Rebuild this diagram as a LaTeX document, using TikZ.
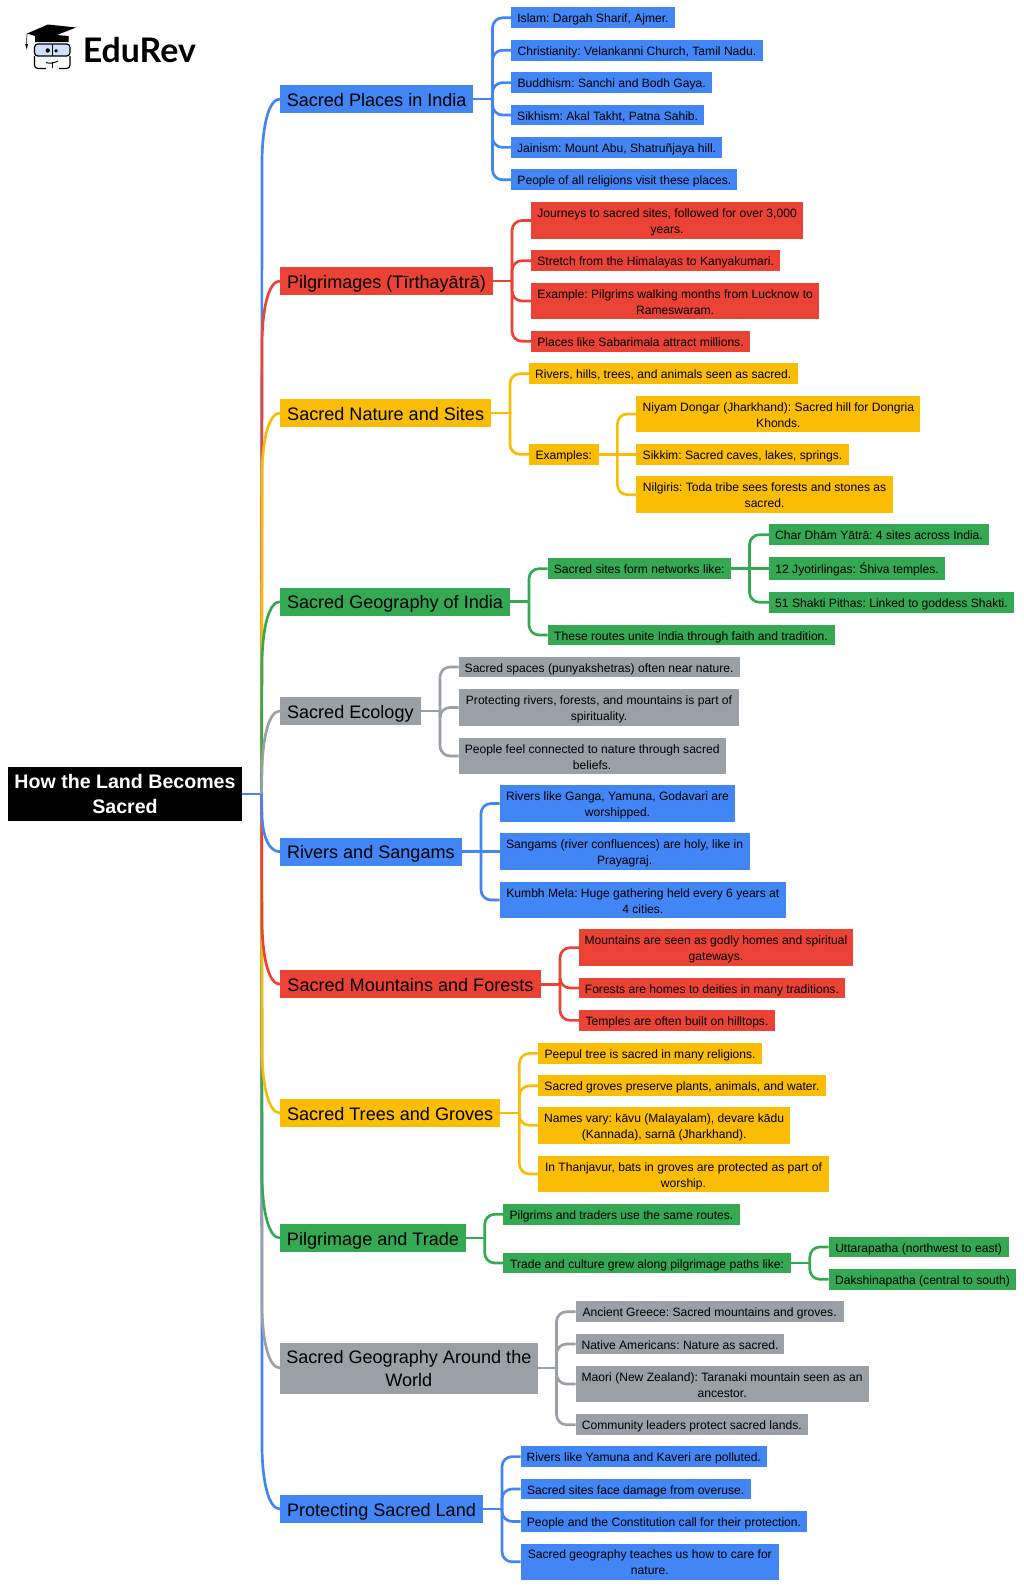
\documentclass[tikz,border=0pt]{standalone}
\usepackage{fontspec}
\setmainfont{Liberation Sans}
\newfontfamily\logofont{Lato}
\usetikzlibrary{calc}
\frenchspacing
\definecolor{cb}{HTML}{4285F4}
\definecolor{cr}{HTML}{EA4335}
\definecolor{cy}{HTML}{FBBC04}
\definecolor{cg}{HTML}{34A853}
\definecolor{ca}{HTML}{9AA0A6}
\newcommand{\fixedlines}{\lineskiplimit=-100pt\relax}
\tikzset{
  boxbase/.style={anchor=west,inner sep=0pt,outer sep=0pt,align=center,text=black},
  subtext/.style={font=\fontsize{9.07pt}{12pt}\selectfont\fixedlines},
  maintext/.style={font=\fontsize{13.55pt}{17.6pt}\selectfont\fixedlines},
  stubline/.style={line width=2pt},
  linkline/.style={line width=2pt,rounded corners=7.5pt},
  trunkline/.style={line width=2pt},
}
\newcommand{\subtop}{\rule{0pt}{10.6pt}}
\newcommand{\subbot}{\rule[-3.1pt]{0pt}{3.1pt}}
\newcommand{\maintop}{\rule{0pt}{13.8pt}}
\newcommand{\mainbot}{\rule[-3.3pt]{0pt}{3.3pt}}
% name, left, right, centre y, height, colour, style, text
\newcommand{\mybox}[8]{\node[boxbase,#7,fill=#6,minimum width={(#3-#2)*0.75pt},minimum height={#5*0.75pt}] (#1) at (#2,#4) {#8};}
\newcommand{\sbx}[7]{\mybox{#1}{#2}{#3}{#4}{#5}{#6}{subtext}{\subtop #7\subbot}}
\newcommand{\mbx}[7]{\mybox{#1}{#2}{#3}{#4}{#5}{#6}{maintext}{\maintop #7\mainbot}}
% colour, parent, child, stem coordinate
\newcommand{\lnk}[4]{\draw[stubline,#1] (#2.east) -- (#4 |- #2.east);\draw[linkline,#1] (#4 |- #2.east) -- (#4 |- #3.west) -- (#3.west);}
\newcommand{\slk}[3]{\draw[stubline,#1] (#2.east) -- (#3.west);}
\newcommand{\tlk}[3]{\draw[trunkline,#1] (hub) -- ($(#2.west)+(-18,#3*60)$) .. controls ($(#2.west)+(-17.3,#3*25)$) and ($(#2.west)+(-11,0)$) .. (#2.west);}
\begin{document}
\begin{tikzpicture}[x=0.75pt,y=-0.75pt]
\useasboundingbox (0,0) rectangle (1024,1588);
% logo
\fill[black] (27,33.5) -- (48,24.5) -- (76,27.5) -- (57,35) -- (68.5,36) -- (68.5,42) -- (35,42) -- (35,36) -- cycle;
\draw[black,line width=.5pt] (27,33.5) -- (26.6,44);
\fill[black] (25.2,44) -- (28,44) -- (26.8,49.5) -- cycle;
\draw[black,line width=.9pt,fill=cb!25,rounded corners=2.5pt] (34.5,44) rectangle (70,56);
\draw[black,line width=.9pt,rounded corners=2.5pt] (34.5,56) -- (34.5,68.5) -- (46,68.5) (59,68.5) -- (70,68.5) -- (70,56);
\draw[black,line width=.7pt] (52.5,44) -- (52.5,56);
\fill[black] (47.7,50.5) circle (2.2) (56,50.8) circle (1.8);
\draw[black,line width=.7pt] (46,62.5) .. controls (50,64) and (54,63) .. (58,61) (52.5,62) -- (52.5,68);
\node[anchor=base west,inner sep=0pt,font=\logofont\bfseries\fontsize{25.4pt}{25.4pt}\selectfont] (logo) at (82.5,62.5) {EduRev};
% root and main topics
\node[boxbase,fill=black,text=white,minimum width={234*0.75pt},minimum height={54.5*0.75pt},font=\bfseries\fontsize{14.7pt}{18.8pt}\selectfont] (root) at (8,794) {How the Land Becomes\\Sacred};
\coordinate (hub) at (261.5,794);
\mbx{m1}{280}{473.3}{99}{27.7}{cb}{Sacred Places in India}
\mbx{m2}{280}{493}{281}{27.7}{cr}{Pilgrimages (Tīrthayātrā)}
\mbx{m3}{280}{491.3}{413}{27.7}{cy}{Sacred Nature and Sites}
\mbx{m4}{280}{510}{601.7}{27.7}{cg}{Sacred Geography of India}
\mbx{m5}{280}{420.7}{711}{27.7}{ca}{Sacred Ecology}
\mbx{m6}{280}{461.7}{851.7}{27.7}{cb}{Rivers and Sangams}
\mbx{m7}{280}{541}{984.3}{27.7}{cr}{Sacred Mountains and Forests}
\mbx{m8}{280}{500.4}{1113}{27.7}{cy}{Sacred Trees and Groves}
\mbx{m9}{280}{466}{1238}{27.7}{cg}{Pilgrimage and Trade}
\mbx{m10}{280}{537.7}{1368}{51}{ca}{Sacred Geography Around the\\World}
\mbx{m11}{280}{483}{1509}{27.7}{cb}{Protecting Sacred Land}
% coordinates of the branch stems
\coordinate (x1) at (492.5,0);
\coordinate (x2) at (512,0);
\coordinate (x3) at (510,0);
\coordinate (x3b) at (617.4,0);
\coordinate (x4) at (529,0);
\coordinate (x4b) at (749.5,0);
\coordinate (x5) at (440,0);
\coordinate (x6) at (481,0);
\coordinate (x7) at (560,0);
\coordinate (x8) at (519.4,0);
\coordinate (x9) at (484.7,0);
\coordinate (x9b) at (809.8,0);
\coordinate (x10) at (556.5,0);
\coordinate (x11) at (502,0);
% leaves
\sbx{a1}{511.3}{674.6}{17.8}{20.7}{cb}{Islam: Dargah Sharif, Ajmer.}
\sbx{a2}{511.3}{762.7}{50.2}{20.7}{cb}{Christianity: Velankanni Church, Tamil Nadu.}
\sbx{a3}{511.3}{712}{82.6}{20.7}{cb}{Buddhism: Sanchi and Bodh Gaya.}
\sbx{a4}{511.3}{704}{115}{20.7}{cb}{Sikhism: Akal Takht, Patna Sahib.}
\sbx{a5}{511.3}{722}{147.4}{20.7}{cb}{Jainism: Mount Abu, Shatruñjaya hill.}
\sbx{a6}{511.3}{737.4}{179.8}{20.7}{cb}{People of all religions visit these places.}
\sbx{b1}{531}{803.1}{220.5}{36.6}{cr}{Journeys to sacred sites, followed for over 3,000\\years.}
\sbx{b2}{531}{780.4}{260.7}{20.7}{cr}{Stretch from the Himalayas to Kanyakumari.}
\sbx{b3}{531}{819.2}{301}{36.6}{cr}{Example: Pilgrims walking months from Lucknow to\\Rameswaram.}
\sbx{b4}{531}{750}{341.3}{20.7}{cr}{Places like Sabarimala attract millions.}
\sbx{c1}{529}{797.5}{373.7}{20.7}{cy}{Rivers, hills, trees, and animals seen as sacred.}
\sbx{c2}{529}{598.6}{454.3}{20.7}{cy}{Examples:}
\sbx{c3}{636.4}{920.4}{414}{36.6}{cy}{Niyam Dongar (Jharkhand): Sacred hill for Dongria\\Khonds.}
\sbx{c4}{636.4}{848.6}{454.3}{20.7}{cy}{Sikkim: Sacred caves, lakes, springs.}
\sbx{c5}{636.4}{892.7}{494.7}{36.6}{cy}{Nilgiris: Toda tribe sees forests and stones as\\sacred.}
\sbx{d1}{547.5}{731}{568.7}{20.7}{cg}{Sacred sites form networks like:}
\sbx{d2}{547.5}{834.6}{635}{20.7}{cg}{These routes unite India through faith and tradition.}
\sbx{d3}{769}{989}{534.7}{20.7}{cg}{Char Dhām Yātrā: 4 sites across India.}
\sbx{d4}{769}{945.2}{568.7}{23.3}{cg}{12 Jyotirlingas: Śhiva temples.}
\sbx{d5}{769}{1014}{602.3}{20.7}{cg}{51 Shakti Pithas: Linked to goddess Shakti.}
\sbx{e1}{458.7}{739.6}{667}{20.7}{ca}{Sacred spaces (punyakshetras) often near nature.}
\sbx{e2}{458.7}{739.3}{707.5}{36.6}{ca}{Protecting rivers, forests, and mountains is part of\\spirituality.}
\sbx{e3}{458.7}{725.6}{756}{36.6}{ca}{People feel connected to nature through sacred\\beliefs.}
\sbx{f1}{499.7}{735.3}{803.5}{36.6}{cb}{Rivers like Ganga, Yamuna, Godavari are\\worshipped.}
\sbx{f2}{499.7}{749.5}{851.7}{36.6}{cb}{Sangams (river confluences) are holy, like in\\Prayagraj.}
\sbx{f3}{499.7}{786}{900}{36.6}{cb}{Kumbh Mela: Huge gathering held every 6 years at\\4 cities.}
\sbx{g1}{579}{852.9}{947.7}{36.6}{cr}{Mountains are seen as godly homes and spiritual\\gateways.}
\sbx{g2}{579}{844.8}{988}{20.7}{cr}{Forests are homes to deities in many traditions.}
\sbx{g3}{579}{775}{1020.4}{20.7}{cr}{Temples are often built on hilltops.}
\sbx{h1}{538.4}{761.7}{1053.4}{20.7}{cy}{Peepul tree is sacred in many religions.}
\sbx{h2}{538.4}{825.5}{1085.8}{20.7}{cy}{Sacred groves preserve plants, animals, and water.}
\sbx{h3}{538.4}{790}{1125.3}{36.6}{cy}{Names vary: kāvu (Malayalam), devare kādu\\(Kannada), sarnā (Jharkhand).}
\sbx{h4}{538.4}{828.6}{1174}{36.6}{cy}{In Thanjavur, bats in groves are protected as part of\\worship.}
\sbx{i1}{503.4}{739.5}{1214.3}{20.7}{cg}{Pilgrims and traders use the same routes.}
\sbx{i2}{503.4}{790.9}{1263}{20.7}{cg}{Trade and culture grew along pilgrimage paths like:}
\sbx{i3}{828.7}{1008.5}{1247}{20.7}{cg}{Uttarapatha (northwest to east)}
\sbx{i4}{828.7}{1016.4}{1279.3}{20.7}{cg}{Dakshinapatha (central to south)}
\sbx{j1}{575.7}{843.5}{1311.7}{20.7}{ca}{Ancient Greece: Sacred mountains and groves.}
\sbx{j2}{575.7}{784.3}{1344}{20.7}{ca}{Native Americans: Nature as sacred.}
\sbx{j3}{575.7}{868.6}{1384}{36.6}{ca}{Maori (New Zealand): Taranaki mountain seen as an\\ancestor.}
\sbx{j4}{575.7}{807.9}{1424.7}{20.7}{ca}{Community leaders protect sacred lands.}
\sbx{k1}{520.6}{766.8}{1456.6}{20.7}{cb}{Rivers like Yamuna and Kaveri are polluted.}
\sbx{k2}{520.6}{750.6}{1489}{20.7}{cb}{Sacred sites face damage from overuse.}
\sbx{k3}{520.6}{807.3}{1521.4}{20.7}{cb}{People and the Constitution call for their protection.}
\sbx{k4}{520.6}{779}{1561.8}{36.6}{cb}{Sacred geography teaches us how to care for\\nature.}
% connectors
\draw[trunkline,cb] (root.east) -- (hub);
\tlk{cb}{m1}{1}
\tlk{cr}{m2}{1}
\tlk{cy}{m3}{1}
\tlk{cg}{m4}{1}
\tlk{ca}{m5}{1}
\tlk{cb}{m11}{-1}
\tlk{ca}{m10}{-1}
\tlk{cg}{m9}{-1}
\tlk{cy}{m8}{-1}
\tlk{cr}{m7}{-1}
\tlk{cb}{m6}{-0.6}
\lnk{cb}{m1}{a1}{x1}\lnk{cb}{m1}{a2}{x1}\lnk{cb}{m1}{a3}{x1}\lnk{cb}{m1}{a4}{x1}\lnk{cb}{m1}{a5}{x1}\lnk{cb}{m1}{a6}{x1}
\lnk{cr}{m2}{b1}{x2}\lnk{cr}{m2}{b2}{x2}\lnk{cr}{m2}{b3}{x2}\lnk{cr}{m2}{b4}{x2}
\lnk{cy}{m3}{c1}{x3}\lnk{cy}{m3}{c2}{x3}
\lnk{cy}{c2}{c3}{x3b}\slk{cy}{c2}{c4}\lnk{cy}{c2}{c5}{x3b}
\lnk{cg}{m4}{d1}{x4}\lnk{cg}{m4}{d2}{x4}
\lnk{cg}{d1}{d3}{x4b}\slk{cg}{d1}{d4}\lnk{cg}{d1}{d5}{x4b}
\lnk{ca}{m5}{e1}{x5}\lnk{ca}{m5}{e2}{x5}\lnk{ca}{m5}{e3}{x5}
\lnk{cb}{m6}{f1}{x6}\slk{cb}{m6}{f2}\lnk{cb}{m6}{f3}{x6}
\lnk{cr}{m7}{g1}{x7}\lnk{cr}{m7}{g2}{x7}\lnk{cr}{m7}{g3}{x7}
\lnk{cy}{m8}{h1}{x8}\lnk{cy}{m8}{h2}{x8}\lnk{cy}{m8}{h3}{x8}\lnk{cy}{m8}{h4}{x8}
\lnk{cg}{m9}{i1}{x9}\lnk{cg}{m9}{i2}{x9}
\lnk{cg}{i2}{i3}{x9b}\lnk{cg}{i2}{i4}{x9b}
\lnk{ca}{m10}{j1}{x10}\lnk{ca}{m10}{j2}{x10}\lnk{ca}{m10}{j3}{x10}\lnk{ca}{m10}{j4}{x10}
\lnk{cb}{m11}{k1}{x11}\lnk{cb}{m11}{k2}{x11}\lnk{cb}{m11}{k3}{x11}\lnk{cb}{m11}{k4}{x11}
\end{tikzpicture}
\end{document}
